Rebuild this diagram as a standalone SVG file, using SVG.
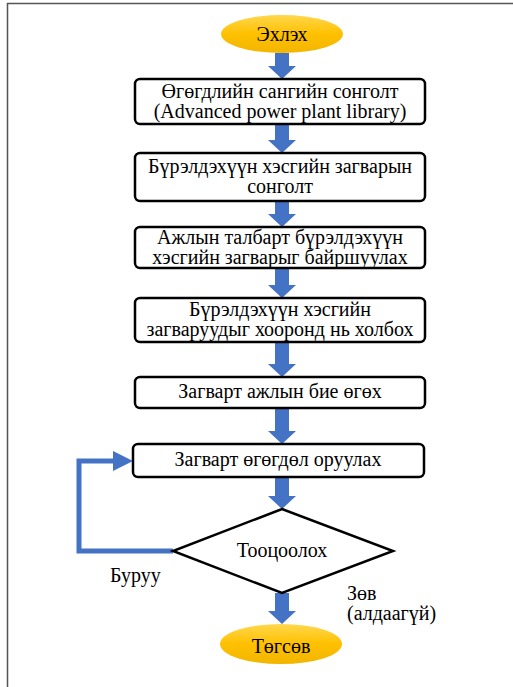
<svg xmlns="http://www.w3.org/2000/svg" width="513" height="687" viewBox="0 0 513 687">
<defs>
<linearGradient id="gold" x1="0" y1="0" x2="0" y2="1">
<stop offset="0" stop-color="#FFD84D"/>
<stop offset="0.5" stop-color="#FFC000"/>
<stop offset="1" stop-color="#F2B600"/>
</linearGradient>
<style>
.box{fill:#fff;stroke:#000;stroke-width:2.5}
.term{fill:url(#gold);stroke:none}
.t{font-size:20px;fill:#000;text-anchor:middle}
.lbl{font-size:20px;fill:#000}
.arr{fill:#4472C4;stroke:none}
.loop{fill:none;stroke:#4472C4;stroke-width:5}
.frame{fill:none;stroke:#555;stroke-width:1.5}
</style>
</defs>
<rect width="513" height="687" fill="#fff"/>
<path class="frame" d="M7.5,687 V3.5 H513"/>
<g font-family="'Liberation Serif', 'Times New Roman', serif">
<g id="connectors">
<path class="arr" d="M275,53 H289 V66 H296 L282,79 L268,66 H275 Z"/>
<path class="arr" d="M275,124 H289 V140 H296 L282,153 L268,140 H275 Z"/>
<path class="arr" d="M275,201 H289 V214 H296 L282,227 L268,214 H275 Z"/>
<path class="arr" d="M275,268 H289 V285 H296 L282,298 L268,285 H275 Z"/>
<path class="arr" d="M275,342 H289 V364 H296 L282,377 L268,364 H275 Z"/>
<path class="arr" d="M275,408 H289 V431 H296 L282,444 L268,431 H275 Z"/>
<path class="arr" d="M275,477 H289 V496 H296 L282,509 L268,496 H275 Z"/>
<path class="arr" d="M275,593 H289 V611 H296 L282,624 L268,611 H275 Z"/>
<polyline class="loop" points="173,551 79,551 79,461 114,461"/>
<path class="arr" d="M113,451 L133,461 L113,471 Z"/>
<text class="lbl" x="110" y="582">Буруу</text>
<text class="lbl" x="347" y="600">Зөв</text>
<text class="lbl" x="347" y="620">(алдаагүй)</text>
</g>
<g id="start">
<ellipse class="term" cx="282" cy="34" rx="61" ry="19"/>
<text class="t" x="282" y="41">Эхлэх</text>
</g>
<g id="n1">
<rect class="box" x="135" y="79" width="290" height="45" rx="5"/>
<text class="t" x="280" y="98">Өгөгдлийн сангийн сонголт</text>
<text class="t" x="280" y="118">(Advanced power plant library)</text>
</g>
<g id="n2">
<rect class="box" x="135" y="153" width="290" height="48" rx="5"/>
<text class="t" x="280" y="173">Бүрэлдэхүүн хэсгийн загварын</text>
<text class="t" x="280" y="193">сонголт</text>
</g>
<g id="n3">
<rect class="box" x="135" y="227" width="290" height="41" rx="5"/>
<text class="t" x="280" y="244">Ажлын талбарт бүрэлдэхүүн</text>
<text class="t" x="280" y="264">хэсгийн загварыг байршуулах</text>
</g>
<g id="n4">
<rect class="box" x="135" y="298" width="290" height="44" rx="5"/>
<text class="t" x="280" y="316">Бүрэлдэхүүн хэсгийн</text>
<text class="t" x="280" y="336">загваруудыг хооронд нь холбох</text>
</g>
<g id="n5">
<rect class="box" x="135" y="377" width="290" height="31" rx="5"/>
<text class="t" x="280" y="398">Загварт ажлын бие өгөх</text>
</g>
<g id="n6">
<rect class="box" x="133" y="444" width="291" height="33" rx="5"/>
<text class="t" x="278" y="466">Загварт өгөгдөл оруулах</text>
</g>
<g id="decision">
<polygon points="282,509 393,551 282,593 173,551" fill="#fff" stroke="#000" stroke-width="2.5"/>
<text class="t" x="282" y="557">Тооцоолох</text>
</g>
<g id="end">
<ellipse class="term" cx="281" cy="644" rx="61" ry="20"/>
<text class="t" x="281" y="653">Төгсөв</text>
</g>
</g>
</svg>
